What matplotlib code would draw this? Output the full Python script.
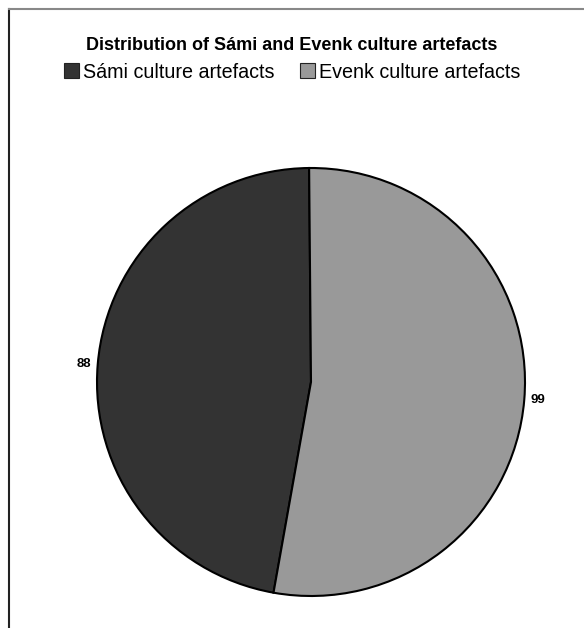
import matplotlib
matplotlib.use("Agg")
import matplotlib.pyplot as plt
from matplotlib.patches import Patch
from matplotlib.lines import Line2D

plt.rcParams['font.family'] = ['Liberation Sans', 'DejaVu Sans']

categories = ["Sámi culture artefacts", "Evenk culture artefacts"]
values = [88, 99]
colors = ["#333333", "#999999"]
title = "Distribution of Sámi and Evenk culture artefacts"

W, H = 584, 628
fig = plt.figure(figsize=(W / 100, H / 100), dpi=100)

# frame lines (cropped chart border)
fig.add_artist(Line2D([9 / W, 9 / W], [0, 1 - 9 / H], color="#222222", lw=1.5))
fig.add_artist(Line2D([9 / W, 1], [1 - 9 / H, 1 - 9 / H], color="#888888", lw=1.5))

cx, cy, r = 311, 382, 214
ax = fig.add_axes([(cx - r) / W, (H - cy - r) / H, 2 * r / W, 2 * r / H])
wedges, texts = ax.pie(values, labels=[str(v) for v in values], colors=colors,
                       startangle=90.5, counterclock=True, labeldistance=1.03,
                       wedgeprops=dict(edgecolor="black", linewidth=1.5),
                       textprops=dict(fontsize=9.5, fontweight="bold"))
ax.set_xlim(-1, 1)
ax.set_ylim(-1, 1)
ax.set_aspect("equal")
ax.axis("off")

fig.text(292 / W, 1 - 45 / H, title, ha="center", va="center",
         fontsize=13, fontweight="bold")

handles = [Patch(facecolor=c, edgecolor="#222222", linewidth=0.8) for c in colors]
fig.legend(handles, categories, loc="center", bbox_to_anchor=(292 / W, 1 - 72 / H),
           ncol=2, frameon=False, fontsize=14.2, handlelength=0.75, handleheight=0.75,
           handletextpad=0.2, columnspacing=1.3)

fig.savefig("out.png", dpi=100)
